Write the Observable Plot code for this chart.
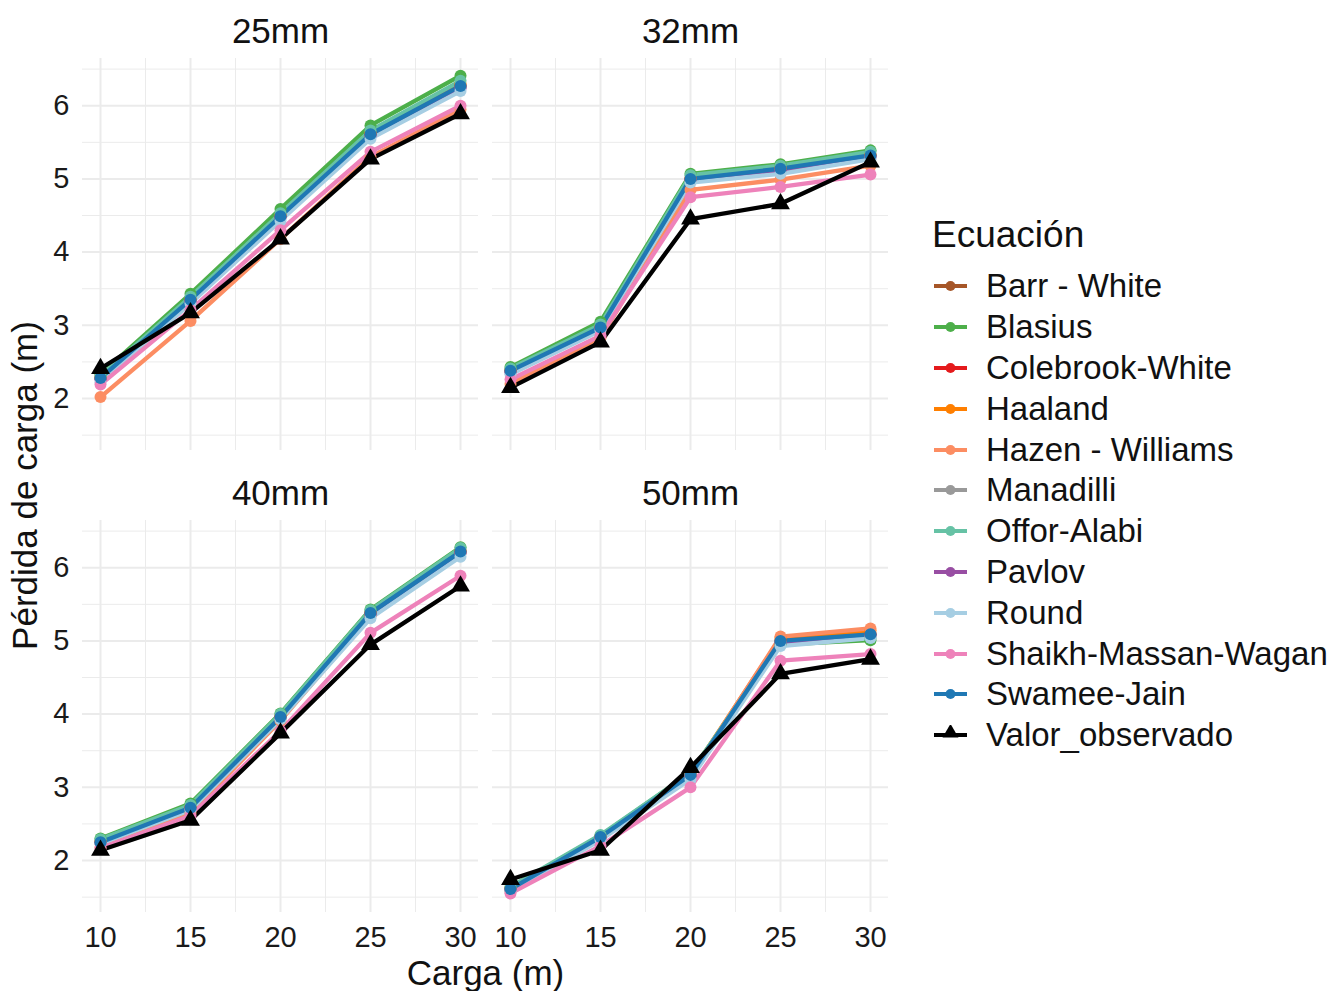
<!DOCTYPE html>
<html>
<head>
<meta charset="utf-8">
<script src="https://cdn.jsdelivr.net/npm/d3@7"></script>
<script src="https://cdn.jsdelivr.net/npm/@observablehq/plot@0.6"></script>
<style>
  html, body { margin: 0; padding: 0; background: #fff; }
  #wrap { position: relative; width: 1333px; height: 991px; font-family: "Liberation Sans", Arial, sans-serif; }
  #legend { position: absolute; left: 932px; top: 213px; color: #111; }
  #legend .title { font-size: 37px; height: 44px; line-height: 44px; margin-bottom: 9px; }
  #legend .item { display: flex; align-items: center; height: 40.8px; }
  #legend .item svg { margin-right: 19px; }
  #legend .item span { font-size: 33px; }
</style>
</head>
<body>
<div id="wrap"><div id="chart"></div><div id="legend"></div></div>
<script>
// ---- Data ----
const diametros = ["25mm", "32mm", "40mm", "50mm"];
const cargas = [10, 15, 20, 25, 30];
const ecuaciones = ["Barr - White", "Blasius", "Colebrook-White", "Haaland", "Hazen - Williams",
  "Manadilli", "Offor-Alabi", "Pavlov", "Round", "Shaikh-Massan-Wagan", "Swamee-Jain", "Valor_observado"];
const colores = ["#A65628", "#4DAF4A", "#E41A1C", "#FF7F00", "#FC8D62",
  "#999999", "#66C2A5", "#984EA3", "#A6CEE3", "#EE82BA", "#1F78B4", "#000000"];

// values per equation: 25mm (5), 32mm (5), 40mm (5), 50mm (5) at cargas 10..30
const barrWhite      = [2.28, 3.35, 4.49, 5.61, 6.27,  2.38, 2.97, 5.00, 5.14, 5.32,  2.25, 2.72, 3.96, 5.38, 6.22,  1.61, 2.32, 3.17, 5.00, 5.09];
const blasius        = [2.33, 3.43, 4.59, 5.73, 6.41,  2.43, 3.05, 5.07, 5.20, 5.39,  2.30, 2.78, 4.01, 5.43, 6.28,  1.63, 2.34, 3.20, 4.95, 5.01];
const colebrook      = [2.28, 3.35, 4.49, 5.61, 6.27,  2.38, 2.97, 5.00, 5.14, 5.32,  2.25, 2.72, 3.96, 5.38, 6.22,  1.61, 2.32, 3.17, 5.00, 5.09];
const haaland        = [2.29, 3.36, 4.51, 5.63, 6.30,  2.39, 2.98, 5.01, 5.15, 5.33,  2.26, 2.73, 3.97, 5.39, 6.23,  1.62, 2.33, 3.18, 5.04, 5.14];
const hazenWilliams  = [2.02, 3.06, 4.18, 5.30, 5.95,  2.20, 2.83, 4.85, 4.99, 5.18,  2.17, 2.65, 3.91, 5.34, 6.20,  1.58, 2.31, 3.16, 5.06, 5.17];
const manadilli      = [2.27, 3.34, 4.48, 5.60, 6.26,  2.37, 2.96, 4.99, 5.13, 5.31,  2.24, 2.71, 3.95, 5.37, 6.21,  1.60, 2.31, 3.16, 4.99, 5.08];
const offorAlabi     = [2.31, 3.39, 4.53, 5.66, 6.34,  2.41, 3.01, 5.05, 5.18, 5.37,  2.29, 2.76, 4.00, 5.42, 6.27,  1.64, 2.35, 3.20, 4.97, 5.04];
const pavlov         = [2.26, 3.33, 4.47, 5.59, 6.24,  2.36, 2.96, 4.99, 5.12, 5.30,  2.24, 2.71, 3.95, 5.36, 6.20,  1.60, 2.31, 3.16, 4.98, 5.07];
const round          = [2.22, 3.30, 4.43, 5.55, 6.20,  2.33, 2.93, 4.95, 5.07, 5.27,  2.23, 2.69, 3.93, 5.31, 6.15,  1.58, 2.28, 3.11, 4.93, 5.04];
const shaikh         = [2.19, 3.21, 4.30, 5.37, 6.00,  2.26, 2.86, 4.75, 4.89, 5.06,  2.17, 2.61, 3.77, 5.11, 5.89,  1.55, 2.20, 3.00, 4.73, 4.82];
const swameeJain     = [2.28, 3.35, 4.49, 5.61, 6.27,  2.38, 2.97, 5.00, 5.14, 5.32,  2.25, 2.72, 3.96, 5.38, 6.22,  1.61, 2.32, 3.17, 5.00, 5.09];
const valorObservado = [2.41, 3.17, 4.18, 5.27, 5.89,  2.15, 2.77, 4.45, 4.66, 5.23,  2.14, 2.55, 3.74, 4.95, 5.75,  1.74, 2.14, 3.27, 4.55, 4.75];

const xTicks = [10, 15, 20, 25, 30];
const xMinor = [12.5, 17.5, 22.5, 27.5];
const yTicks = [2, 3, 4, 5, 6];
const yMinor = [1.5, 2.5, 3.5, 4.5, 5.5, 6.5];

// ---- Build table ----
const series = [barrWhite, blasius, colebrook, haaland, hazenWilliams, manadilli,
  offorAlabi, pavlov, round, shaikh, swameeJain, valorObservado];
const rows = [];
ecuaciones.forEach((eq, e) => {
  diametros.forEach((d, di) => {
    cargas.forEach((c, ci) => {
      rows.push({eq, diametro: d, col: di % 2, row: Math.floor(di / 2), carga: c, perdida: series[e][di * 5 + ci]});
    });
  });
});
const facetsInfo = diametros.map((d, di) => ({diametro: d, col: di % 2, row: Math.floor(di / 2)}));
const circles = rows.filter(r => r.eq !== "Valor_observado");
const triangles = rows.filter(r => r.eq === "Valor_observado");

const grid = "#EBEBEB";
const chart = Plot.plot({
  width: 1333,
  height: 991,
  marginLeft: 82,
  marginRight: 445,
  marginTop: 58,
  marginBottom: 79,
  style: {fontFamily: '"Liberation Sans", Arial, sans-serif', background: "#fff", color: "#222"},
  fx: {domain: [0, 1], paddingInner: 14 / 410, paddingOuter: 0, axis: null, round: false},
  fy: {domain: [0, 1], paddingInner: 70 / 462, paddingOuter: 0, axis: null, round: false},
  x: {domain: [9, 31], nice: false},
  y: {domain: [1.29, 6.645], nice: false},
  color: {domain: ecuaciones, range: colores},
  marks: [
    Plot.ruleX(xMinor, {stroke: grid, strokeWidth: 1}),
    Plot.ruleY(yMinor, {stroke: grid, strokeWidth: 1}),
    Plot.ruleX(xTicks, {stroke: grid, strokeWidth: 2}),
    Plot.ruleY(yTicks, {stroke: grid, strokeWidth: 2}),
    Plot.axisX({ticks: xTicks, tickFormat: "d", tickSize: 0, tickPadding: 14, fontSize: 29, label: null, fill: "#1a1a1a"}),
    Plot.axisY({ticks: yTicks, tickFormat: "d", tickSize: 0, tickPadding: 13, fontSize: 29, label: null, fill: "#1a1a1a"}),
    Plot.line(rows, {x: "carga", y: "perdida", z: "eq", stroke: "eq", fx: "col", fy: "row", strokeWidth: 4.3}),
    Plot.dot(circles, {x: "carga", y: "perdida", fill: "eq", fx: "col", fy: "row", r: 6}),
    Plot.dot(triangles, {x: "carga", y: "perdida", fill: "eq", fx: "col", fy: "row", r: 7, symbol: "triangle"}),
    Plot.text(facetsInfo, {text: "diametro", fx: "col", fy: "row", frameAnchor: "top", dy: -27, lineAnchor: "middle", fontSize: 35, fill: "#111"}),
    Plot.text([{col: 0, row: 1}], {text: () => "Carga (m)", fx: "col", fy: "row", frameAnchor: "bottom-right", dx: 7, dy: 61, lineAnchor: "middle", textAnchor: "middle", fontSize: 35, fill: "#111"}),
    Plot.text([{col: 0, row: 0}], {text: () => "Pérdida de carga (m)", fx: "col", fy: "row", frameAnchor: "bottom-left", dx: -57, dy: 35, rotate: -90, lineAnchor: "middle", textAnchor: "middle", fontSize: 35, fill: "#111"})
  ]
});
document.getElementById("chart").appendChild(chart);

// ---- Legend ----
const legend = document.getElementById("legend");
const t = document.createElement("div");
t.className = "title";
t.textContent = "Ecuación";
legend.appendChild(t);
ecuaciones.forEach((eq, i) => {
  const item = document.createElement("div");
  item.className = "item";
  const ns = "http://www.w3.org/2000/svg";
  const s = document.createElementNS(ns, "svg");
  s.setAttribute("width", 35); s.setAttribute("height", 20);
  const ln = document.createElementNS(ns, "line");
  ln.setAttribute("x1", 2); ln.setAttribute("x2", 35); ln.setAttribute("y1", 10); ln.setAttribute("y2", 10);
  ln.setAttribute("stroke", colores[i]); ln.setAttribute("stroke-width", 4);
  s.appendChild(ln);
  if (eq === "Valor_observado") {
    const p = document.createElementNS(ns, "path");
    p.setAttribute("d", d3.symbol(d3.symbolTriangle, 110)());
    p.setAttribute("transform", "translate(18.5,8)");
    p.setAttribute("fill", colores[i]);
    s.appendChild(p);
  } else {
    const c = document.createElementNS(ns, "circle");
    c.setAttribute("cx", 18.5); c.setAttribute("cy", 10); c.setAttribute("r", 5);
    c.setAttribute("fill", colores[i]);
    s.appendChild(c);
  }
  item.appendChild(s);
  const sp = document.createElement("span");
  sp.textContent = eq;
  item.appendChild(sp);
  legend.appendChild(item);
});
</script>
</body>
</html>
